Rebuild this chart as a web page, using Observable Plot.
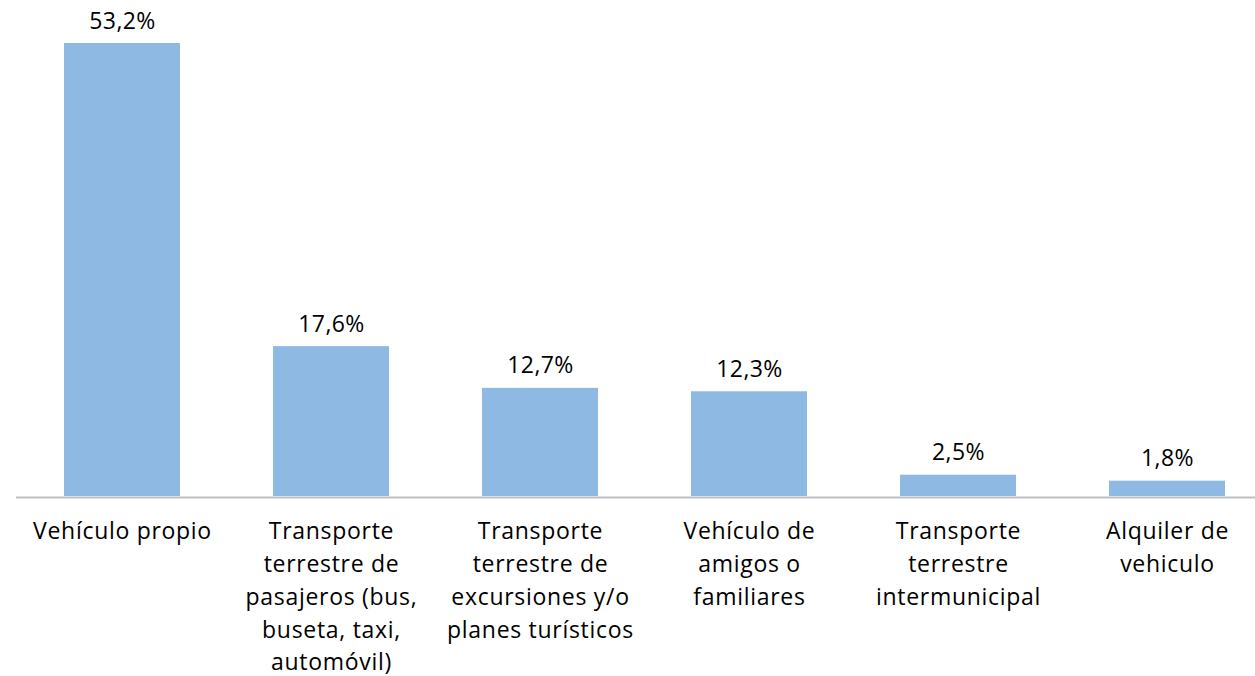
<!DOCTYPE html>
<html>
<head>
<meta charset="utf-8">
<script src="https://cdn.jsdelivr.net/npm/d3@7"></script>
<script src="https://cdn.jsdelivr.net/npm/@observablehq/plot@0.6"></script>
<style>
  html, body { margin: 0; padding: 0; background: #fff; overflow: hidden; }
  #chart svg { display: block; }
  #chart .cat text, #chart text.cat { letter-spacing: 0.7px; }
  #chart .val text, #chart text.val { letter-spacing: 0.4px; }
</style>
</head>
<body>
<div id="chart"></div>
<script>
const categories = [
  "Vehículo propio",
  "Transporte terrestre de pasajeros (bus, buseta, taxi, automóvil)",
  "Transporte terrestre de excursiones y/o planes turísticos",
  "Vehículo de amigos o familiares",
  "Transporte terrestre intermunicipal",
  "Alquiler de vehiculo"
];
const tickLabels = [
  "Vehículo propio",
  "Transporte\nterrestre de\npasajeros (bus,\nbuseta, taxi,\nautomóvil)",
  "Transporte\nterrestre de\nexcursiones y/o\nplanes turísticos",
  "Vehículo de\namigos o\nfamiliares",
  "Transporte\nterrestre\nintermunicipal",
  "Alquiler de\nvehiculo"
];
const values = [53.2, 17.6, 12.7, 12.3, 2.5, 1.8];

const data = categories.map((c, i) => ({category: c, label: tickLabels[i], value: values[i]}));
const fmt = v => v.toFixed(1).replace(".", ",") + "%";

const chart = Plot.plot({
  width: 1255,
  height: 676,
  marginLeft: 16,
  marginRight: 0,
  marginTop: 0,
  marginBottom: 0,
  style: {fontFamily: "'Open Sans', sans-serif", fontSize: "23px", color: "#000", background: "#fff"},
  x: {type: "band", domain: categories, range: [16, 1272], paddingInner: 0.446, paddingOuter: 0.223, axis: null},
  y: {domain: [0, 53.2], range: [496, 43], axis: null},
  marks: [
    Plot.barY(data, {x: "category", y: "value", fill: "#8DB9E2"}),
    Plot.ruleY([0], {stroke: "#BFBFBF", strokeWidth: 2, dy: 1}),
    Plot.text(data, {x: "category", y: "value", text: d => fmt(d.value), lineAnchor: "bottom", dy: -15, fill: "#000", fontSize: 23, className: "val"}),
    Plot.text(data, {x: "category", y: 0, text: "label", lineAnchor: "top", lineHeight: 1.424, dy: 19.5, fill: "#000", fontSize: 23, className: "cat"})
  ]
});
document.getElementById("chart").appendChild(chart);
</script>
</body>
</html>
